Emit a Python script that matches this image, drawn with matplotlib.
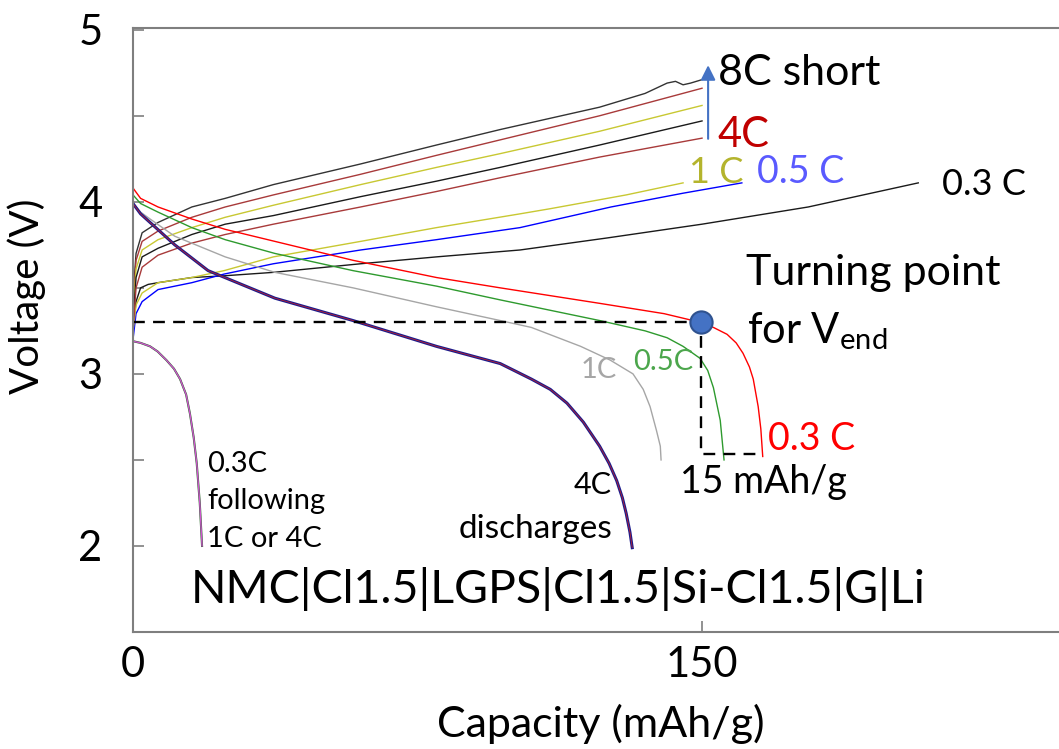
import matplotlib
matplotlib.use("Agg")
import matplotlib.pyplot as plt

plt.rcParams['font.family'] = ['Lato', 'DejaVu Sans']
plt.rcParams['mathtext.fontset'] = 'custom'
plt.rcParams['mathtext.rm'] = 'Lato'

# ---- charge curves (capacity mAh/g, voltage V) ----
c03_x = [0, 0, 0.8, 2, 4, 6.6, 15.5, 24, 37, 60, 80, 102, 125, 150, 178, 207]
c03_v = [2.9, 3.25, 3.42, 3.50, 3.52, 3.53, 3.56, 3.57, 3.59, 3.64, 3.68, 3.72, 3.79, 3.87, 3.97, 4.11]
c05_x = [0, 0, 0.8, 2.4, 6.6, 15.5, 24, 37, 60, 80, 102, 126, 145, 160.5]
c05_v = [2.85, 3.2, 3.35, 3.42, 3.49, 3.53, 3.58, 3.64, 3.72, 3.78, 3.85, 3.97, 4.05, 4.11]
c1_x = [0, 0, 0.8, 2.4, 6.6, 15.5, 24, 37, 60, 80, 102, 110, 130, 145]
c1_v = [2.88, 3.25, 3.40, 3.47, 3.53, 3.56, 3.60, 3.68, 3.77, 3.85, 3.93, 3.96, 4.04, 4.11]

up_x = [0, 0.8, 2.4, 6.6, 15.5, 24.3, 37, 60, 80, 96.8, 123, 150]
up1_x = [0, 0.8, 2.4, 6.6, 15.5, 24.3, 37, 60, 80, 96.8, 123, 135, 140.8, 143, 145, 147, 150]
up1_v = [3.45, 3.70, 3.82, 3.88, 3.97, 4.02, 4.10, 4.22, 4.33, 4.42, 4.55, 4.63, 4.69, 4.70, 4.68, 4.69, 4.71]
up2_v = [3.40, 3.66, 3.77, 3.83, 3.91, 3.97, 4.04, 4.16, 4.27, 4.36, 4.50, 4.66]
up3_v = [3.35, 3.61, 3.72, 3.78, 3.85, 3.91, 3.98, 4.10, 4.20, 4.28, 4.41, 4.56]
up4_v = [3.30, 3.56, 3.68, 3.73, 3.81, 3.87, 3.92, 4.03, 4.12, 4.20, 4.33, 4.47]
up5_v = [3.25, 3.50, 3.62, 3.69, 3.76, 3.81, 3.87, 3.97, 4.06, 4.14, 4.26, 4.37]

# ---- discharge curves ----
d03_x = [0, 2, 6.6, 15.5, 24.3, 37.4, 58, 80, 96.8, 123, 140, 149.5, 153, 156.6, 159, 160.8, 162.5, 163.5, 164.8, 165.5, 166]
d03_v = [4.08, 4.02, 3.97, 3.90, 3.84, 3.77, 3.66, 3.56, 3.50, 3.41, 3.35, 3.30, 3.27, 3.23, 3.18, 3.12, 3.04, 2.97, 2.81, 2.68, 2.52]
d05_x = [0, 2, 6.6, 15.5, 24.3, 37.4, 58, 80, 96.8, 123, 135, 140.8, 145, 149.5, 151.5, 153, 154.8, 155.8]
d05_v = [4.04, 3.99, 3.94, 3.85, 3.78, 3.70, 3.60, 3.51, 3.43, 3.31, 3.25, 3.21, 3.16, 3.09, 3.02, 2.92, 2.73, 2.50]
d1_x = [0, 2, 4.5, 11, 24.3, 37.4, 58, 80, 96.8, 105, 118, 125.8, 131.8, 134.5, 136.3, 138, 139, 139.2]
d1_v = [3.99, 3.94, 3.90, 3.80, 3.68, 3.59, 3.50, 3.39, 3.31, 3.27, 3.16, 3.08, 3.00, 2.91, 2.81, 2.67, 2.58, 2.50]
d4_x = [0, 2, 4.5, 11, 19.8, 28.6, 37.4, 58, 80, 96.8, 105, 110, 114.4, 118.7, 123, 125.5, 127.5, 129, 130, 131, 131.6]
d4_v = [3.99, 3.93, 3.88, 3.75, 3.60, 3.52, 3.44, 3.31, 3.16, 3.06, 2.97, 2.91, 2.83, 2.72, 2.58, 2.48, 2.38, 2.28, 2.19, 2.08, 1.99]
dl_x = [0, 2, 4.5, 6.5, 8.8, 10.8, 12.4, 14, 15, 16, 16.8, 17.6, 18.2]
dl_v = [3.19, 3.18, 3.16, 3.13, 3.08, 3.03, 2.97, 2.88, 2.77, 2.63, 2.48, 2.25, 2.00]

# ---- guide lines ----
guide_x = [0, 149.8, 149.8, 166]
guide_v = [3.30, 3.30, 2.535, 2.535]
turn_x, turn_v = 149.8, 3.30

fig = plt.figure(figsize=(10.59, 7.49), dpi=100)
ax = fig.add_axes([0.1256, 0.1562, 0.8744, 0.8064])
ax.set_xlim(0, 244.1)
ax.set_ylim(1.5, 5.01)

lw = 1.0
ax.plot(c03_x, c03_v, color='#1a1a1a', lw=lw)
ax.plot(c05_x, c05_v, color='#0000ff', lw=lw)
ax.plot(c1_x, c1_v, color='#c8c832', lw=lw)
ax.plot(up1_x, up1_v, color='#333333', lw=lw)
ax.plot(up_x, up2_v, color='#a83a3a', lw=lw)
ax.plot(up_x, up3_v, color='#c8c832', lw=lw)
ax.plot(up_x, up4_v, color='#1a1a1a', lw=lw)
ax.plot(up_x, up5_v, color='#a83a3a', lw=lw)

ax.plot(d03_x, d03_v, color='#ff0000', lw=lw)
ax.plot(d05_x, d05_v, color='#2e9a2e', lw=lw)
ax.plot(d1_x, d1_v, color='#a6a6a6', lw=lw)
ax.plot(d4_x, d4_v, color='#1c1c8c', lw=2.2)
ax.plot(d4_x, d4_v, color='#cc2222', lw=0.5)
ax.plot(dl_x, dl_v, color='#226622', lw=1.5)
ax.plot(dl_x, dl_v, color='#cc55cc', lw=1.0)

ax.plot(guide_x, guide_v, color='black', lw=1.7, ls=(0, (5, 3.5)))
ax.plot([turn_x], [turn_v], 'o', ms=16, mfc='#4472c4', mec='#2f528f', mew=1.5)

ax.annotate('', xy=(151.6, 4.81), xytext=(151.6, 4.35),
            arrowprops=dict(arrowstyle='-|>', color='#4472c4', lw=1.5, mutation_scale=22))

# spines and ticks
for s in ['top', 'left', 'bottom']:
    ax.spines[s].set_color('#7f7f7f')
    ax.spines[s].set_linewidth(1.5)
ax.spines['right'].set_visible(False)
ax.set_xticks([0, 150])
ax.set_yticks([2, 3, 4, 5])
ax.set_yticks([2.5, 3.5, 4.5], minor=True)
ax.tick_params(axis='both', which='both', direction='in', length=8, width=1.2,
               color='#7f7f7f', labelsize=30)
ax.tick_params(axis='y', pad=22)
ax.tick_params(axis='x', pad=10)

fig.text(27 / 1059, 1 - 296 / 749, 'Voltage (V)', rotation=90, ha='center', va='center', fontsize=29)
fig.text(601 / 1059, 1 - 737 / 749, 'Capacity (mAh/g)', ha='center', va='baseline', fontsize=31)

# annotations
ax.text(154.2, 4.68, '8C short', fontsize=31, va='baseline')
ax.text(154.0, 4.32, '4C', fontsize=30, color='#c00000', va='baseline')
ax.text(146.6, 4.11, '1 C', fontsize=26, color='#b4b42d', va='baseline')
ax.text(164.5, 4.11, '0.5 C', fontsize=27, color='#5a5aff', va='baseline')
ax.text(213.3, 4.04, '0.3 C', fontsize=26, va='baseline')
ax.text(161.6, 3.517, 'Turning point', fontsize=31, va='baseline')
ax.text(161.9, 3.18, r'for V$_{\mathrm{end}}$', fontsize=30, va='baseline')
ax.text(167.4, 2.558, '0.3 C', fontsize=27, color='#ff0000', va='baseline')
ax.text(144.2, 2.31, '15 mAh/g', fontsize=27, va='baseline')
ax.text(131.8, 3.02, '0.5C', fontsize=21, color='#4ca64c', va='baseline')
ax.text(117.9, 2.977, '1C', fontsize=21, color='#a6a6a6', va='baseline')
ax.text(126.3, 2.30, '4C', fontsize=22, ha='right', va='baseline')
ax.text(126.3, 2.047, 'discharges', fontsize=24, ha='right', va='baseline')
ax.text(19.5, 2.43, '0.3C', fontsize=21, va='baseline')
ax.text(19.5, 2.215, 'following', fontsize=21, va='baseline')
ax.text(19.5, 1.994, '1C or 4C', fontsize=21, va='baseline')
ax.text(15.3, 1.669, 'NMC|Cl1.5|LGPS|Cl1.5|Si-Cl1.5|G|Li', fontsize=33.5, va='baseline')

fig.savefig('out.png', dpi=100)
